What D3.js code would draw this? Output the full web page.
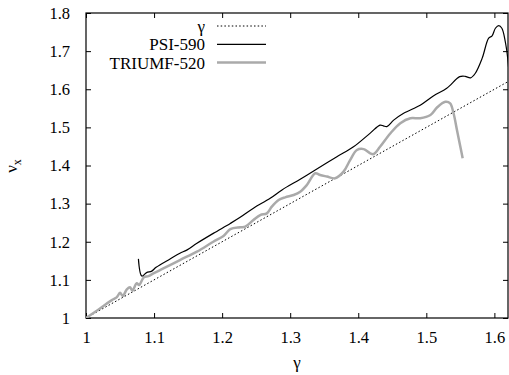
<!DOCTYPE html>
<html>
<head>
<meta charset="utf-8">
<script src="https://d3js.org/d3.v7.min.js"></script>
<style>
body { margin: 0; background: #fff; }
svg text { font-family: "Liberation Serif", "Times New Roman", Times, serif !important; }
</style>
</head>
<body>
<svg id="myPlot" width="509" height="375"></svg>
<script>
// data: [gamma, nu_x]
const psiGamma = [1.077, 1.082, 1.089, 1.0966, 1.103, 1.1235, 1.138, 1.148, 1.163, 1.187, 1.212,
  1.2265, 1.246, 1.2706, 1.288, 1.3147, 1.3368, 1.3686, 1.393, 1.4176, 1.432, 1.437, 1.442, 1.452,
  1.4667, 1.491, 1.5108, 1.530, 1.549, 1.557, 1.565, 1.572, 1.582, 1.5916, 1.5966, 1.6015, 1.6064,
  1.611, 1.616, 1.6196, 1.622];
const psiNu = [1.155, 1.110, 1.119, 1.123, 1.133, 1.155, 1.170, 1.178, 1.196, 1.222, 1.248,
  1.264, 1.288, 1.314, 1.336, 1.364, 1.388, 1.423, 1.449, 1.485, 1.506, 1.504, 1.502, 1.519,
  1.537, 1.558, 1.583, 1.6025, 1.633, 1.634, 1.630, 1.642, 1.681, 1.734, 1.740, 1.760, 1.767,
  1.760, 1.725, 1.681, 1.629];

const triGamma = [1.0, 1.0206, 1.038, 1.045, 1.05, 1.054, 1.06, 1.0647, 1.068, 1.0745, 1.078, 1.085,
  1.0917, 1.099, 1.1137, 1.138, 1.163, 1.187, 1.202, 1.212, 1.2265, 1.234, 1.246, 1.256, 1.2657,
  1.273, 1.283, 1.2926, 1.305, 1.3147, 1.3245, 1.3368, 1.344, 1.354, 1.366, 1.3784, 1.388, 1.398,
  1.408, 1.4176, 1.4225, 1.432, 1.447, 1.4618, 1.4765, 1.491, 1.506, 1.5157, 1.528, 1.535, 1.540,
  1.545, 1.55, 1.5534];
const triNu = [1.0, 1.025, 1.047, 1.054, 1.066, 1.058, 1.075, 1.0805, 1.0716, 1.091, 1.0866, 1.107,
  1.110, 1.117, 1.130, 1.152, 1.174, 1.200, 1.215, 1.233, 1.238, 1.2395, 1.257, 1.270, 1.2745,
  1.292, 1.3095, 1.3165, 1.3226, 1.331, 1.349, 1.3795, 1.375, 1.371, 1.3665, 1.384, 1.414, 1.4406,
  1.443, 1.432, 1.430, 1.449, 1.484, 1.511, 1.524, 1.524, 1.5325, 1.552, 1.567, 1.563, 1.537,
  1.493, 1.449, 1.419];

const diagGamma = [1.0, 1.62];
const xTicks = [1, 1.1, 1.2, 1.3, 1.4, 1.5, 1.6];
const yTicks = [1, 1.1, 1.2, 1.3, 1.4, 1.5, 1.6, 1.7, 1.8];
const legendNames = ["γ", "PSI-590", "TRIUMF-520"];

const mLeft = 86, mRight = 508, mTop = 13, mBottom = 318;
const serif = "'Liberation Serif', 'Times New Roman', serif";

const svg = d3.select("#myPlot");

const xScale = d3.scaleLinear().domain([1, 1.62]).range([mLeft, mRight]);
const yScale = d3.scaleLinear().domain([1, 1.8]).range([mBottom, mTop]);

const fmt = d => d === 1 ? "1" : d.toFixed(1);

svg.append("clipPath").attr("id", "clip")
  .append("rect")
  .attr("x", mLeft).attr("y", mTop)
  .attr("width", mRight - mLeft).attr("height", mBottom - mTop);

// axes with inward ticks
function styleAxis(g) {
  g.attr("font-family", serif);
  g.select(".domain").remove();
  g.selectAll("text").attr("font-size", "16.5px").attr("fill", "#000");
  g.selectAll("line").attr("stroke", "#000");
}

svg.append("g")
  .attr("transform", "translate(0," + mBottom + ")")
  .call(d3.axisBottom(xScale).tickValues(xTicks).tickFormat(fmt).tickSizeInner(-5).tickSizeOuter(0).tickPadding(13))
  .call(styleAxis);

svg.append("g")
  .attr("transform", "translate(0," + mTop + ")")
  .call(d3.axisTop(xScale).tickValues(xTicks).tickFormat("").tickSizeInner(-5).tickSizeOuter(0))
  .call(styleAxis);

svg.append("g")
  .attr("transform", "translate(" + mLeft + ",0)")
  .call(d3.axisLeft(yScale).tickValues(yTicks).tickFormat(fmt).tickSizeInner(-5).tickSizeOuter(0).tickPadding(16))
  .call(styleAxis);

svg.append("g")
  .attr("transform", "translate(" + mRight + ",0)")
  .call(d3.axisRight(yScale).tickValues(yTicks).tickFormat("").tickSizeInner(-5).tickSizeOuter(0))
  .call(styleAxis);

// frame
svg.append("rect")
  .attr("x", mLeft).attr("y", mTop)
  .attr("width", mRight - mLeft).attr("height", mBottom - mTop)
  .attr("fill", "none").attr("stroke", "#000").attr("stroke-width", 1.2);

const plot = svg.append("g").attr("clip-path", "url(#clip)");

const line = d3.line()
  .x(d => xScale(d[0]))
  .y(d => yScale(d[1]));

// gamma = gamma
plot.append("path")
  .datum(diagGamma.map(g => [g, g]))
  .attr("d", line)
  .attr("fill", "none").attr("stroke", "#000").attr("stroke-width", 1)
  .attr("stroke-dasharray", "1.5,2.2");

plot.append("path")
  .datum(triGamma.map((g, i) => [g, triNu[i]]))
  .attr("d", line.curve(d3.curveCatmullRom))
  .attr("fill", "none").attr("stroke", "#aaaaaa").attr("stroke-width", 2.5);

plot.append("path")
  .datum(psiGamma.map((g, i) => [g, psiNu[i]]))
  .attr("d", line.curve(d3.curveCatmullRom))
  .attr("fill", "none").attr("stroke", "#000").attr("stroke-width", 1.2);

// legend
const legendStyle = [
  { stroke: "#000", width: 1, dash: "1.5,2.2" },
  { stroke: "#000", width: 1.2, dash: null },
  { stroke: "#aaaaaa", width: 2.5, dash: null }
];
const leg = svg.append("g").attr("font-family", serif);
legendNames.forEach((name, i) => {
  const y = 26 + i * 18.3;
  leg.append("text")
    .attr("x", 205).attr("y", y + 6)
    .attr("text-anchor", "end")
    .attr("font-size", "17px")
    .text(name);
  leg.append("line")
    .attr("x1", 217).attr("x2", 266)
    .attr("y1", y).attr("y2", y)
    .attr("stroke", legendStyle[i].stroke)
    .attr("stroke-width", legendStyle[i].width)
    .attr("stroke-dasharray", legendStyle[i].dash);
});

// axis titles
svg.append("text")
  .attr("x", (mLeft + mRight) / 2).attr("y", 368)
  .attr("text-anchor", "middle")
  .attr("font-family", serif)
  .attr("font-size", "17px")
  .text("γ");

const yl = svg.append("text")
  .attr("transform", "translate(17,166) rotate(-90)")
  .attr("text-anchor", "middle")
  .attr("font-family", serif)
  .attr("font-size", "17px");
yl.append("tspan").text("ν");
yl.append("tspan").attr("dy", 4).attr("font-size", "12px").text("x");
</script>
</body>
</html>
